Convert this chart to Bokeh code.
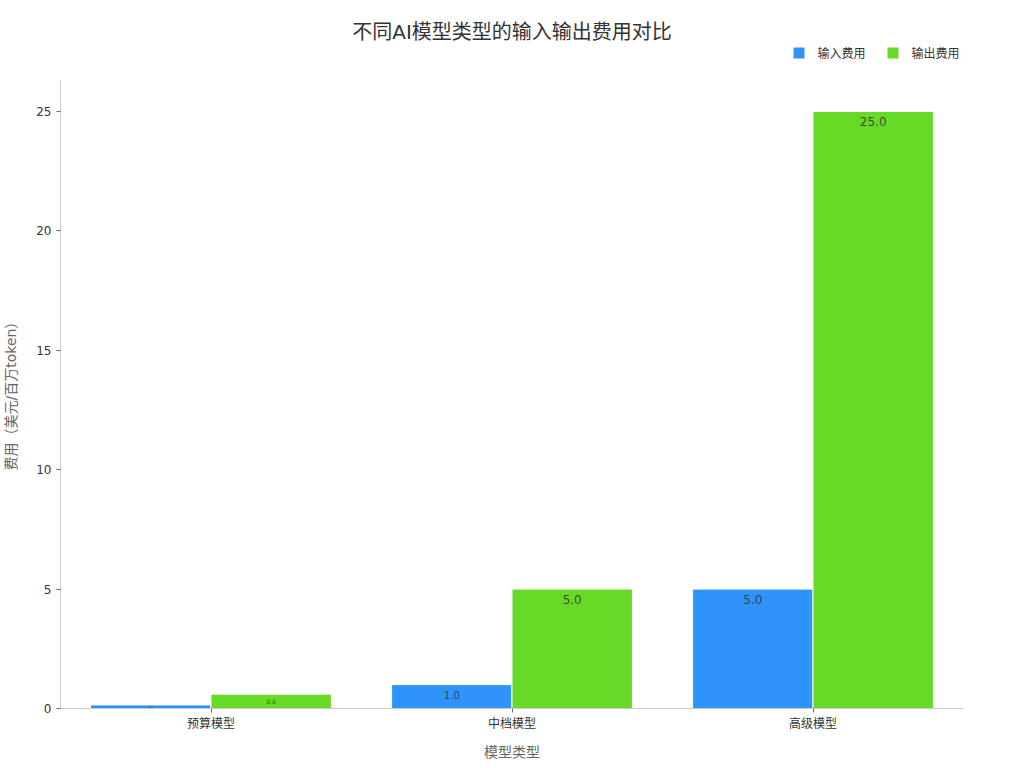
from bokeh.plotting import figure
from bokeh.models import ColumnDataSource, FactorRange, Range1d, Legend, LegendItem, FixedTicker
from bokeh.transform import dodge
from bokeh.embed import file_html
from bokeh.resources import INLINE

# data
categories = ['预算模型', '中档模型', '高级模型']
input_cost = [0.15, 1.0, 5.0]
output_cost = [0.6, 5.0, 25.0]
series_names = ['输入费用', '输出费用']
y_ticks = [0, 5, 10, 15, 20, 25]

colors = ['#2E93FA', '#66DA26']
FONT = 'DejaVu Sans, Noto Sans CJK SC'
TXT = '#333333'
Y_TOP = 26.3   # top of the drawn y axis


def label_cols(vals):
	# label sits a little inside the top of the bar, shrinks for short bars
	ys = [v - min(0.42, v / 2.0) for v in vals]
	sizes = ['%dpx' % max(3, min(12, round(v * 10))) for v in vals]
	texts = ['%.1f' % v for v in vals]
	return ys, sizes, texts


src_in = ColumnDataSource(dict(cat=categories, val=input_cost))
src_out = ColumnDataSource(dict(cat=categories, val=output_cost))
ys, sizes, texts = label_cols(input_cost)
lab_in = ColumnDataSource(dict(cat=categories, y=ys, size=sizes, text=texts))
ys, sizes, texts = label_cols(output_cost)
lab_out = ColumnDataSource(dict(cat=categories, y=ys, size=sizes, text=texts))

# the frame reaches up past the axis so the legend can sit above the bars
p = figure(x_range=FactorRange(*categories), y_range=Range1d(0, 27.76),
	width=1024, height=768, output_backend="svg", toolbar_location=None,
	min_border_left=60, min_border_right=61, min_border_top=45, min_border_bottom=60,
	title='不同AI模型类型的输入输出费用对比')
p.outline_line_color = None
p.xgrid.grid_line_color = None
p.ygrid.grid_line_color = None

p.title.align = 'center'
p.title.text_font = FONT
p.title.text_font_size = '20px'
p.title.text_font_style = 'normal'
p.title.text_color = TXT
p.title.standoff = 3

r_in = p.vbar(x=dodge('cat', -0.2, range=p.x_range), top='val', width=0.4, source=src_in,
	fill_color=colors[0], line_color='white', line_width=1)
r_out = p.vbar(x=dodge('cat', 0.2, range=p.x_range), top='val', width=0.4, source=src_out,
	fill_color=colors[1], line_color='white', line_width=1)

for s, off in [(lab_in, -0.2), (lab_out, 0.2)]:
	p.text(x=dodge('cat', off, range=p.x_range), y='y', text='text', source=s,
		text_font_size='size', text_align='center', text_baseline='middle',
		text_color=TXT, text_alpha=0.85, text_font={'value': FONT})

# axes
for ax in (p.xaxis[0], p.yaxis[0]):
	ax.axis_line_color = '#cccccc'
	ax.major_tick_line_color = '#666666'
	ax.major_tick_in = 0
	ax.major_tick_out = 4
	ax.minor_tick_line_color = None
	ax.major_label_text_font = FONT
	ax.major_label_text_font_size = '12px'
	ax.major_label_text_color = TXT
	ax.axis_label_text_font = FONT
	ax.axis_label_text_font_style = 'normal'
	ax.axis_label_text_font_size = '14px'
	ax.axis_label_text_color = '#666666'

p.yaxis.ticker = FixedTicker(ticks=y_ticks)
p.yaxis.bounds = (0, Y_TOP)
p.yaxis.major_label_standoff = 5
# label is centred on the (taller) frame; trailing no-break spaces pull it
# back down to the middle of the drawn axis
p.yaxis.axis_label = '费用（美元/百万token）' + '\u00a0' * 7
p.yaxis.axis_label_standoff = 14
p.xaxis.major_label_standoff = 4
p.xaxis.axis_label = '模型类型'
p.xaxis.axis_label_standoff = 10

legend = Legend(items=[LegendItem(label=series_names[0], renderers=[r_in]),
	LegendItem(label=series_names[1], renderers=[r_out])],
	location=(730.5, 647), orientation='horizontal',
	glyph_width=15, glyph_height=15, label_height=15, label_standoff=12, spacing=19,
	padding=0, margin=0, border_line_color=None, background_fill_alpha=0,
	label_text_font=FONT, label_text_font_size='12px', label_text_color=TXT)
p.add_layout(legend, 'center')

open("out.html", "w").write(file_html(p, INLINE))
